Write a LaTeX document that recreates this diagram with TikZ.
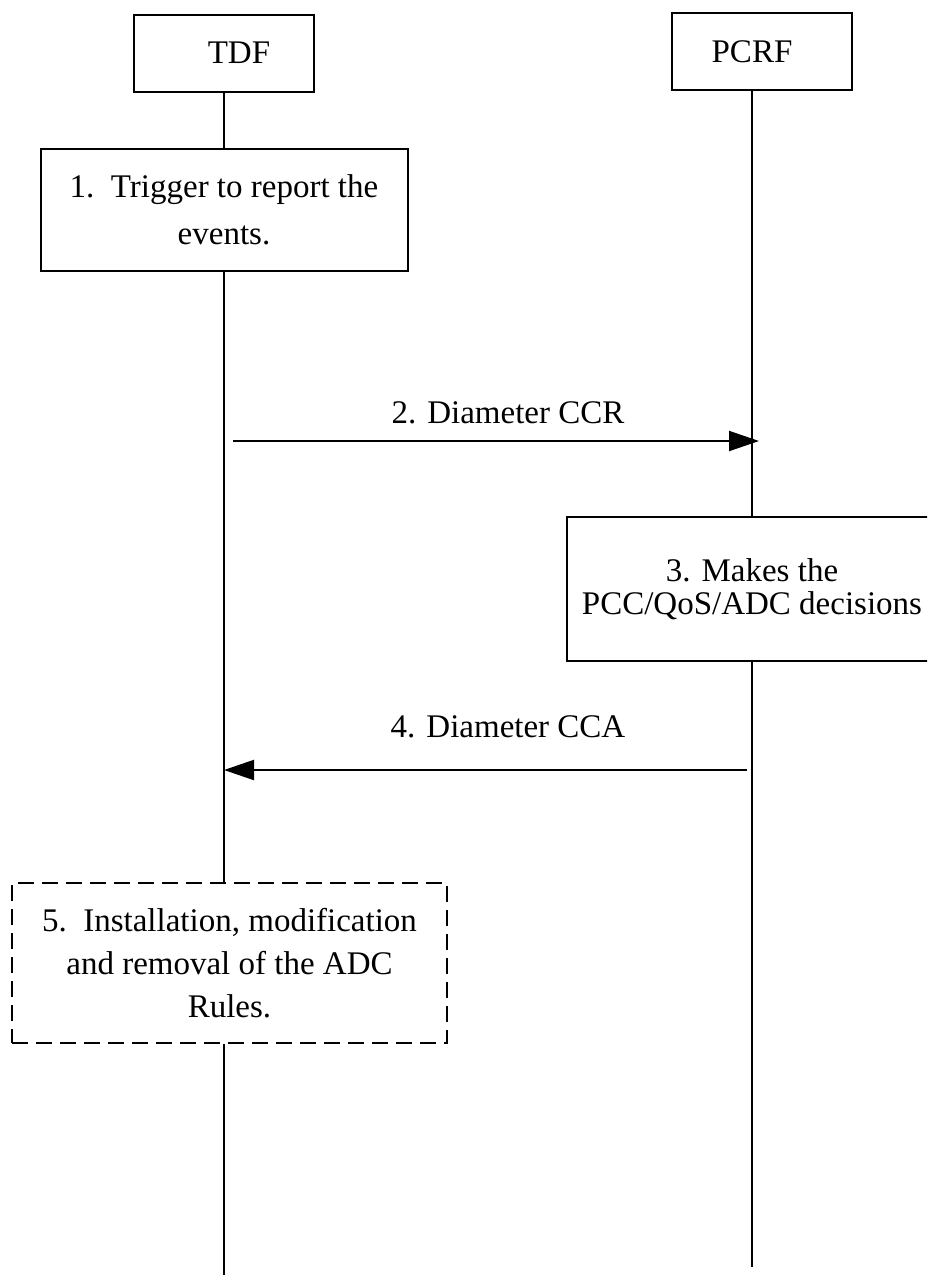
\documentclass[tikz,border=0pt]{standalone}
\usepackage{fontspec}
\setmainfont{Liberation Serif}
\usetikzlibrary{arrows.meta}

\begin{document}
\begin{tikzpicture}[x=0.5pt, y=-0.5pt, line width=1pt,
        font=\fontsize{16.5}{23.5}\selectfont,
        entity/.style={rectangle, draw, minimum width=90pt, minimum height=38.5pt},
        stepbox/.style={rectangle, draw, align=center},
        msg/.style={-{Triangle[length=15pt, width=10pt]}}]
        \useasboundingbox (0,0) rectangle (927,1275);
        \clip (0,0) rectangle (927,1275);
        % entities
        \node[entity] (tdf) at (224, 53) {\hspace*{15pt}TDF};
        \node[entity] (pcrf) at (762, 51.5) {PCRF\hspace*{10pt}};
        % procedure steps
        \node[stepbox, minimum width=183.5pt, minimum height=61pt] (trigger) at (224, 210) {1.\ \ Trigger to report the\\events.};
        \node[stepbox, minimum width=185pt, minimum height=72pt, font=\fontsize{16.5}{16.5}\selectfont] (decide) at (752, 589) {3. Makes the\\PCC/QoS/ADC decisions};
        \node[stepbox, dash pattern=on 8pt off 4pt, minimum width=217.5pt, minimum height=80pt, font=\fontsize{16.5}{21.5}\selectfont] (install) at (229.5, 963) {5.\ \ Installation, modification\\and removal of the ADC\\Rules.};
        % lifelines
        \coordinate (tdf end) at (224, 1275);
        \coordinate (pcrf end) at (752, 1267);
        \draw (tdf.south) -- (trigger.north);
        \draw (trigger.south) -- (trigger.south |- install.north);
        \draw (trigger.south |- install.south) -- (tdf end);
        \draw (decide.north) -- (decide.north |- pcrf.south);
        \draw (decide.south) -- (pcrf end);
        % messages
        \coordinate (ccr start) at (233, 441);
        \coordinate (ccr end) at (759, 441);
        \coordinate (cca start) at (747, 770);
        \coordinate (cca end) at (224, 770);
        \draw[msg] (ccr start) -- (ccr end);
        \draw[msg] (cca start) -- (cca end);
        \node[anchor=base] (ccr) at (508, 423) {2. Diameter CCR};
        \node[anchor=base] (cca) at (508, 737) {4. Diameter CCA};
    \end{tikzpicture}
\end{document}
